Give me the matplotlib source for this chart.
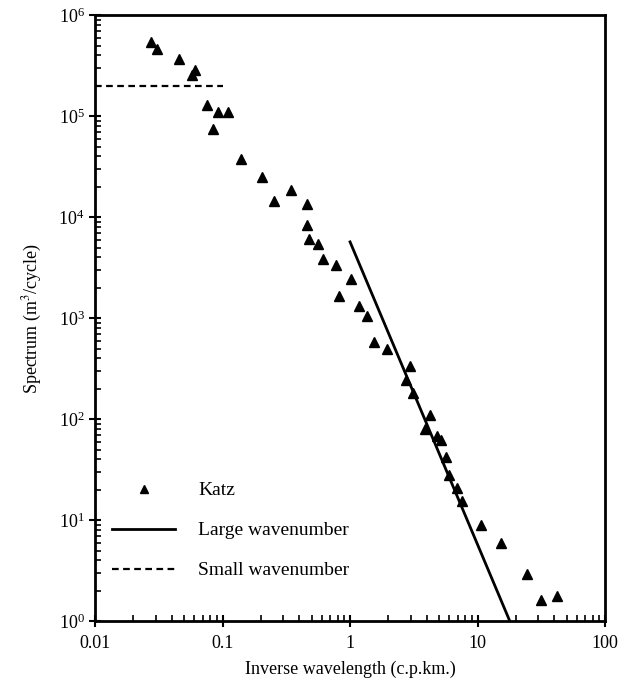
import numpy as np
import matplotlib
matplotlib.use("Agg")
import matplotlib.pyplot as plt
from matplotlib.ticker import LogLocator, NullFormatter

plt.rcParams['font.family'] = ['Liberation Serif', 'DejaVu Serif']
plt.rcParams['mathtext.fontset'] = 'stix'

# Katz data (inverse wavelength in c.p.km., spectrum in m^3/cycle)
katz_x = [0.0275, 0.0305, 0.0456, 0.0612, 0.0577, 0.076, 0.0923, 0.111, 0.0841,
          0.1396, 0.203, 0.2535, 0.3465, 0.46, 0.462, 0.48, 0.561, 0.618, 0.773,
          1.02, 0.824, 1.17, 1.37, 1.55, 1.94, 2.93, 2.75, 3.14, 4.24, 3.90,
          4.84, 5.15, 5.63, 6.01, 6.87, 7.60, 10.7, 15.2, 24.6, 31.3, 41.8]
katz_y = [5.45e5, 4.6e5, 3.66e5, 2.9e5, 2.59e5, 1.28e5, 1.1e5, 1.1e5, 7.4e4,
          3.75e4, 2.5e4, 1.45e4, 1.84e4, 1.35e4, 8.4e3, 6.1e3, 5.4e3, 3.9e3, 3.35e3,
          2.43e3, 1.66e3, 1.32e3, 1.05e3, 587, 501, 339, 247, 180, 109, 79.6,
          67.9, 62.3, 42, 27.7, 20.6, 15.5, 8.9, 6.0, 2.94, 1.63, 1.76]

# fitted lines
large_x = [1.0, 17.9]
large_y = [5700, 1.0]
small_x = [0.01, 0.1]
small_y = [2e5, 2e5]

fig = plt.figure(figsize=(6.29, 6.94), dpi=100)
ax = fig.add_axes([0.151, 0.105, 0.811, 0.873])

ax.plot(katz_x, katz_y, linestyle='none', marker='^', markersize=6.5,
        color='black', label='Katz')
ax.plot(large_x, large_y, color='black', linewidth=2.0, label='Large wavenumber')
ax.plot(small_x, small_y, color='black', linewidth=1.6, linestyle=(0, (3, 2)),
        label='Small wavenumber')

ax.set_xscale('log')
ax.set_yscale('log')
ax.set_xlim(0.01, 100)
ax.set_ylim(1, 1e6)

ax.set_xticks([0.01, 0.1, 1, 10, 100])
ax.set_xticklabels(['0.01', '0.1', '1', '10', '100'])
ax.xaxis.set_minor_locator(LogLocator(base=10, subs=np.arange(2, 10)))
ax.yaxis.set_minor_locator(LogLocator(base=10, subs=np.arange(2, 10)))
ax.xaxis.set_minor_formatter(NullFormatter())
ax.yaxis.set_minor_formatter(NullFormatter())

ax.tick_params(which='major', direction='inout', length=8, width=1.5, labelsize=13)
ax.tick_params(which='minor', direction='in', length=4, width=1.2)
ax.tick_params(axis='x', pad=6)
for s in ax.spines.values():
    s.set_linewidth(2.0)

ax.set_xlabel('Inverse wavelength (c.p.km.)', fontsize=13, labelpad=6)
ax.set_ylabel('Spectrum (m$^3$/cycle)', fontsize=13, labelpad=10)

leg = ax.legend(loc='lower left', bbox_to_anchor=(0.0, 0.04), frameon=False,
                fontsize=14, handlelength=3.2, handletextpad=1.2,
                labelspacing=1.15, markerscale=0.8)

fig.savefig('out.png', dpi=100)
